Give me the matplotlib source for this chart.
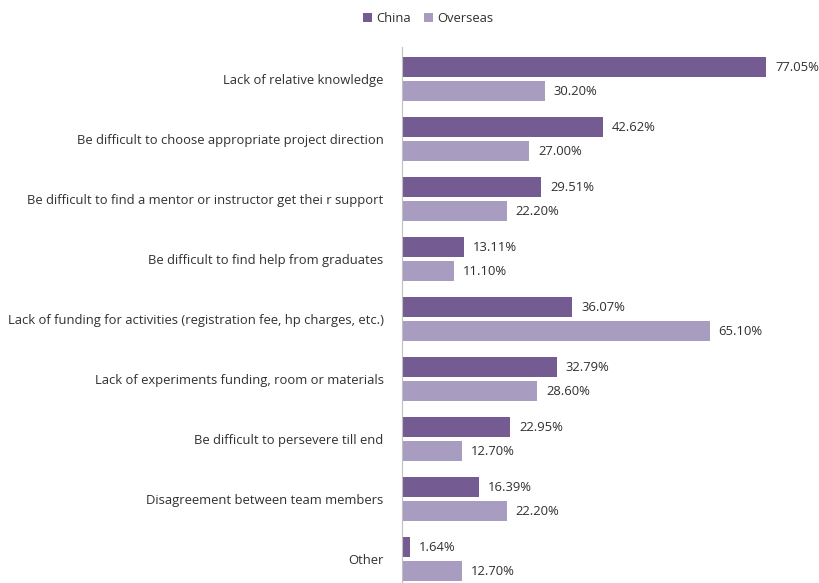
import numpy as np
import matplotlib.pyplot as plt

categories = [
    'Lack of relative knowledge',
    'Be difficult to choose appropriate project direction',
    'Be difficult to find a mentor or instructor get thei r support',
    'Be difficult to find help from graduates',
    'Lack of funding for activities (registration fee, hp charges, etc.)',
    'Lack of experiments funding, room or materials',
    'Be difficult to persevere till end',
    'Disagreement between team members',
    'Other',
]
china = [77.05, 42.62, 29.51, 13.11, 36.07, 32.79, 22.95, 16.39, 1.64]
overseas = [30.20, 27.00, 22.20, 11.10, 65.10, 28.60, 12.70, 22.20, 12.70]

c_china = '#745C93'
c_over = '#A99CC1'
txt = '#303030'

plt.rcParams['font.family'] = ['Open Sans', 'DejaVu Sans']

fig = plt.figure(figsize=(8.2, 5.83), dpi=100)
ax = fig.add_axes([0.490, 0.0, 0.49, 0.919])

y = np.arange(len(categories))
h = 0.34
ax.barh(y - 0.2, china, height=h, color=c_china, label='China')
ax.barh(y + 0.2, overseas, height=h, color=c_over, label='Overseas')

for yi, v in zip(y, china):
    ax.text(v + 1.9, yi - 0.2, '%.2f%%' % v, va='center', ha='left',
            fontsize=9.4, color=txt)
for yi, v in zip(y, overseas):
    ax.text(v + 1.9, yi + 0.2, '%.2f%%' % v, va='center', ha='left',
            fontsize=9.4, color=txt)

ax.set_xlim(0, 85)
ax.set_ylim(8.40, -0.53)
ax.set_yticks(y)
ax.set_yticklabels(categories, fontsize=9.4, color=txt)
ax.tick_params(axis='y', length=0, pad=13)
ax.set_xticks([])
for s in ['top', 'right', 'bottom']:
    ax.spines[s].set_visible(False)
ax.spines['left'].set_color('#BFBFBF')

fig.legend(loc='upper center', bbox_to_anchor=(0.522, 1.0), ncol=2,
           frameon=False, fontsize=9.4, handlelength=0.7, handleheight=0.7,
           columnspacing=1.0, handletextpad=0.3, labelcolor=txt)

fig.savefig('out.png', dpi=100)
